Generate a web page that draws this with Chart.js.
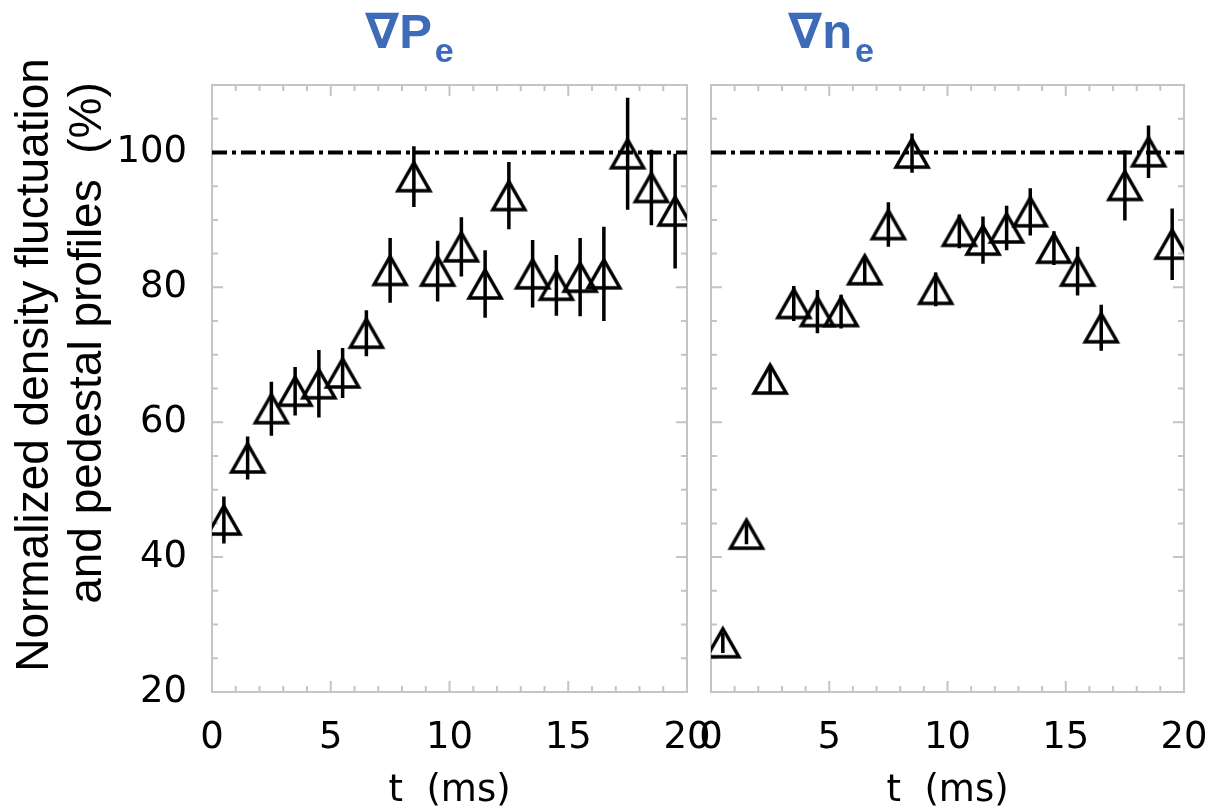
<!DOCTYPE html>
<html lang="en">
<head>
<meta charset="UTF-8">
<title>Normalized density fluctuation and pedestal profiles</title>
<script src="https://cdn.jsdelivr.net/npm/chart.js@4.4.1/dist/chart.umd.min.js"></script>
<style>
  html, body { margin: 0; padding: 0; background: #fff; }
  #wrap { position: relative; width: 1211px; height: 810px; }
  #wrap canvas { position: absolute; left: 0; top: 0; }
</style>
</head>
<body>
<div id="wrap">
  <canvas id="chart-pe" width="1211" height="810"></canvas>
  <canvas id="chart-ne" width="1211" height="810"></canvas>
</div>
<script>
// time bins (ms)
var times = [0.5, 1.5, 2.5, 3.5, 4.5, 5.5, 6.5, 7.5, 8.5, 9.5,
             10.5, 11.5, 12.5, 13.5, 14.5, 15.5, 16.5, 17.5, 18.5, 19.5];

// grad Pe panel (%)
var pePct = [45.5, 54.7, 62.0, 64.6, 65.7, 67.3, 73.2, 82.5, 96.4, 82.4,
             86.0, 80.5, 93.6, 82.0, 80.3, 81.5, 82.0, 99.8, 94.8, 91.3];
var peErr = [3.5, 3.2, 4.0, 3.6, 5.0, 3.7, 3.4, 4.8, 4.5, 4.5,
             4.4, 5.0, 5.0, 5.0, 4.5, 5.8, 7.0, 8.3, 5.6, 8.5];

// grad ne panel (%)
var nePct = [27.3, 43.4, 66.4, 77.6, 76.4, 76.4, 82.6, 89.3, 99.9, 79.7,
             88.3, 87.0, 88.8, 91.2, 85.8, 82.4, 74.0, 95.1, 100.1, 86.4];
var neErr = [1.5, 1.5, 2.0, 2.6, 3.2, 2.5, 2.0, 3.3, 2.9, 2.5,
             2.5, 3.5, 3.3, 3.5, 2.5, 3.6, 3.4, 5.2, 3.9, 5.3];

var refLevel = 100;
var xRange = [0, 20];
var yRange = [20, 110];
var xTicks = [0, 5, 10, 15, 20];
var yTicks = [20, 40, 60, 80, 100];

var blue = '#3d6bb8';
var frameGray = '#c4c4c4';

Chart.defaults.font.family = '"DejaVu Sans", sans-serif';
Chart.defaults.color = '#000';

// open triangle marker, centred on its bounding box
function makeTriangle() {
  var c = document.createElement('canvas');
  c.width = 40; c.height = 40;
  var g = c.getContext('2d');
  g.lineWidth = 3.5;
  g.strokeStyle = '#000';
  g.beginPath();
  g.moveTo(4, 34);
  g.lineTo(20, 6);
  g.lineTo(36, 34);
  g.closePath();
  g.stroke();
  return c;
}
var tri = makeTriangle();

function toPoints(vals) {
  return vals.map(function (v, i) { return { x: times[i], y: v }; });
}

function errorBars(vals, errs) {
  return {
    id: 'errorBars',
    beforeDatasetsDraw: function (chart) {
      var sx = chart.scales.x, sy = chart.scales.y, ctx = chart.ctx, a = chart.chartArea;
      ctx.save();
      ctx.beginPath();
      ctx.rect(a.left, a.top, a.right - a.left, a.bottom - a.top);
      ctx.clip();
      ctx.strokeStyle = '#000';
      ctx.lineWidth = 3.5;
      ctx.beginPath();
      vals.forEach(function (v, i) {
        var px = sx.getPixelForValue(times[i]);
        ctx.moveTo(px, sy.getPixelForValue(v - errs[i]));
        ctx.lineTo(px, sy.getPixelForValue(v + errs[i]));
      });
      ctx.stroke();
      ctx.restore();
    }
  };
}

// light grey box with inward ticks on all four sides
var frame = {
  id: 'frame',
  beforeDatasetsDraw: function (chart) {
    var sx = chart.scales.x, sy = chart.scales.y, ctx = chart.ctx, a = chart.chartArea;
    ctx.save();
    ctx.strokeStyle = frameGray;
    ctx.lineWidth = 2;
    ctx.strokeRect(a.left, a.top, a.right - a.left, a.bottom - a.top);
    ctx.beginPath();
    for (var t = xRange[0]; t <= xRange[1]; t++) {
      var px = sx.getPixelForValue(t);
      var len = (t % 5 === 0) ? 11 : 6;
      ctx.moveTo(px, a.bottom); ctx.lineTo(px, a.bottom - len);
      ctx.moveTo(px, a.top); ctx.lineTo(px, a.top + len);
    }
    for (var v = yRange[0]; v <= yRange[1]; v += 5) {
      var py = sy.getPixelForValue(v);
      var ylen = (v % 20 === 0) ? 11 : 6;
      ctx.moveTo(a.left, py); ctx.lineTo(a.left + ylen, py);
      ctx.moveTo(a.right, py); ctx.lineTo(a.right - ylen, py);
    }
    ctx.stroke();
    ctx.restore();
  }
};

// blue panel heading with subscript e
function heading(main, x) {
  return {
    id: 'heading',
    afterDraw: function (chart) {
      var ctx = chart.ctx;
      ctx.save();
      ctx.fillStyle = blue;
      ctx.textAlign = 'left';
      ctx.textBaseline = 'alphabetic';
      ctx.font = 'bold 49px "Liberation Sans", "DejaVu Sans", sans-serif';
      ctx.fillText(main, x, 48);
      var w = ctx.measureText(main).width;
      ctx.font = 'bold 34px "Liberation Sans", "DejaVu Sans", sans-serif';
      ctx.fillText('e', x + w + 3, 62);
      ctx.restore();
    }
  };
}

var yTitle = {
  id: 'yTitle',
  afterDraw: function (chart) {
    var ctx = chart.ctx;
    var lines = [['Normalized density fluctuation', 48, 365], ['and pedestal profiles  (%)', 101, 343]];
    lines.forEach(function (l) {
      ctx.save();
      ctx.fillStyle = '#000';
      ctx.font = '46px "Liberation Sans", Arial, sans-serif';
      ctx.textAlign = 'center';
      ctx.textBaseline = 'alphabetic';
      ctx.translate(l[1], l[2]);
      ctx.rotate(-Math.PI / 2);
      ctx.fillText(l[0], 0, 0);
      ctx.restore();
    });
  }
};

function panel(id, vals, errs, padRight, axisLeft, showY, extra) {
  return new Chart(document.getElementById(id), {
    type: 'scatter',
    data: {
      datasets: [{
        data: toPoints(vals),
        pointStyle: tri,
        pointRadius: 16,
        backgroundColor: 'rgba(0,0,0,0)',
        borderColor: '#000',
        clip: 0
      }, {
        type: 'line',
        data: [{ x: xRange[0], y: refLevel }, { x: xRange[1], y: refLevel }],
        borderColor: '#000',
        borderWidth: 4,
        borderDash: [15, 5, 4, 5],
        pointRadius: 0,
        fill: false,
        clip: 0
      }]
    },
    options: {
      responsive: false,
      animation: false,
      events: [],
      layout: { padding: { top: 85, right: padRight, left: 0, bottom: 0 } },
      plugins: { legend: { display: false }, tooltip: { enabled: false } },
      scales: {
        x: {
          type: 'linear',
          min: xRange[0],
          max: xRange[1],
          afterBuildTicks: function (s) { s.ticks = xTicks.map(function (v) { return { value: v }; }); },
          afterFit: function (s) { s.height = 118; },
          // invisible tick marks only push the labels down
          grid: { display: true, drawOnChartArea: false, drawTicks: true, tickLength: 24, color: 'rgba(0,0,0,0)' },
          border: { display: false },
          ticks: { padding: 0, font: { size: 37 }, color: '#000', maxRotation: 0, autoSkip: false },
          title: { display: true, text: 't  (ms)', font: { size: 37 }, color: '#000', padding: { top: 0, bottom: -4 } }
        },
        y: {
          type: 'linear',
          min: yRange[0],
          max: yRange[1],
          afterBuildTicks: function (s) { s.ticks = yTicks.map(function (v) { return { value: v }; }); },
          afterFit: function (s) { s.width = axisLeft; },
          grid: { display: false },
          border: { display: false },
          ticks: { display: showY, padding: 17, font: { size: 37 }, color: '#000', autoSkip: false }
        }
      }
    },
    plugins: [frame, errorBars(vals, errs)].concat(extra)
  });
}

panel('chart-pe', pePct, peErr, 524, 212, true, [heading('\u2207P', 365), yTitle]);
panel('chart-ne', nePct, neErr, 27, 711, false, [heading('\u2207n', 788)]);
</script>
</body>
</html>
